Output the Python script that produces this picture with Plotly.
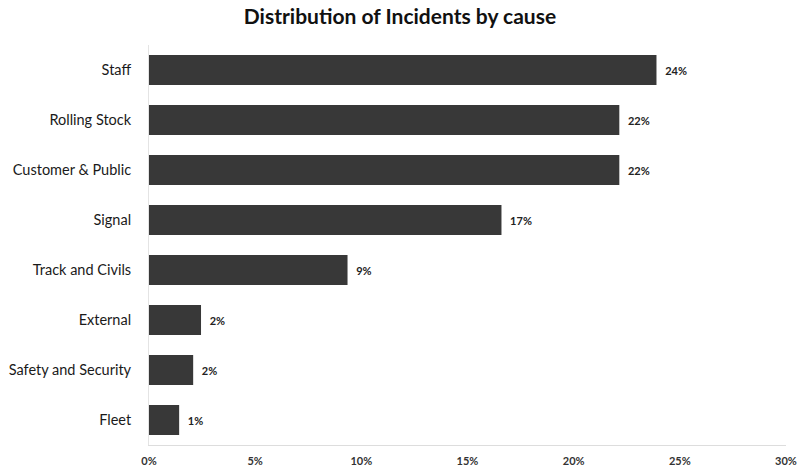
import plotly.graph_objects as go

# Incident causes (top to bottom) and their share of all incidents
causes = ["Staff", "Rolling Stock", "Customer & Public", "Signal",
          "Track and Civils", "External", "Safety and Security", "Fleet"]
shares = [0.239, 0.2215, 0.2215, 0.166, 0.0935, 0.0245, 0.0208, 0.0142]

tick_vals = [0, 0.05, 0.10, 0.15, 0.20, 0.25, 0.30]
tick_text = ["0%", "5%", "10%", "15%", "20%", "25%", "30%"]

font_family = "Lato, 'Open Sans', sans-serif"

fig = go.Figure(
    go.Bar(
        x=shares,
        y=causes,
        orientation="h",
        marker=dict(color="#383838", line=dict(width=0)),
        width=0.6,
        texttemplate="\u00a0\u00a0<b>%{x:.0%}</b>",
        textposition="outside",
        textfont=dict(family=font_family, size=11, color="#222222"),
        cliponaxis=False,
    )
)

fig.update_layout(
    width=800,
    height=472,
    margin=dict(l=149, r=14, t=45, b=27),
    paper_bgcolor="white",
    plot_bgcolor="white",
    showlegend=False,
    title=dict(
        text="<b>Distribution of Incidents by cause</b>",
        x=0.5,
        xanchor="center",
        y=0.965,
        yanchor="middle",
        font=dict(family=font_family, size=21, color="#111111"),
    ),
    xaxis=dict(
        range=[0, 0.30],
        tickvals=tick_vals,
        ticktext=tick_text,
        showgrid=False,
        zeroline=False,
        showline=True,
        linecolor="#dddddd",
        linewidth=1,
        ticks="",
        automargin=False,
        ticklabelstandoff=6,
        tickfont=dict(family=font_family, size=11, color="#333333", weight="bold"),
    ),
    yaxis=dict(
        autorange="reversed",
        showgrid=False,
        zeroline=False,
        showline=True,
        linecolor="#e4e4e4",
        linewidth=1,
        ticks="",
        automargin=False,
        ticklabelstandoff=14,
        tickfont=dict(family=font_family, size=14.5, color="#1a1a1a"),
    ),
)

fig.write_html("out.html")
